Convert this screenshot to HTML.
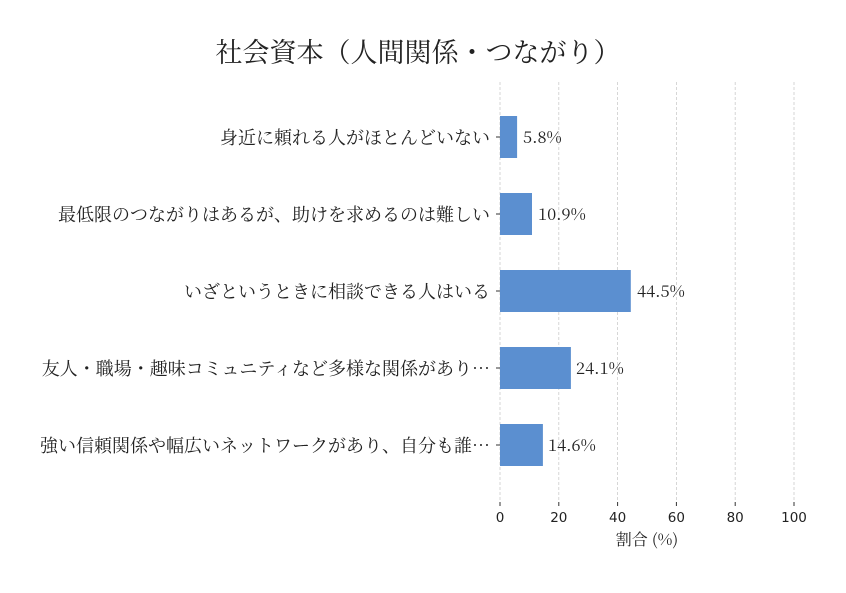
<!DOCTYPE html>
<html><head><meta charset="utf-8"><style>
body{margin:0;background:#fff}
svg text{fill:#222}
.s{font-family:"Noto Serif CJK JP","Liberation Serif",serif}
.d{font-family:"DejaVu Sans",sans-serif}
</style></head><body>
<svg width="846" height="588" viewBox="0 0 846 588" xmlns="http://www.w3.org/2000/svg">
<rect width="846" height="588" fill="#fff"/>
<text class="s" x="418" y="62" font-size="27" text-anchor="middle">社会資本（人間関係・つながり）</text>
<g stroke="#cccccc" stroke-width="0.8" stroke-dasharray="3,2">
<line x1="500" y1="82" x2="500" y2="500"/>
<line x1="558.8" y1="82" x2="558.8" y2="500"/>
<line x1="617.6" y1="82" x2="617.6" y2="500"/>
<line x1="676.4" y1="82" x2="676.4" y2="500"/>
<line x1="735.2" y1="82" x2="735.2" y2="500"/>
<line x1="794" y1="82" x2="794" y2="500"/>
</g>
<g fill="#5b8fd0">
<rect x="500" y="116" width="17.1" height="42"/>
<rect x="500" y="193" width="32" height="42"/>
<rect x="500" y="270" width="130.8" height="42"/>
<rect x="500" y="347" width="70.9" height="42"/>
<rect x="500" y="424" width="42.9" height="42"/>
</g>
<g stroke="#333" stroke-width="1">
<line x1="496" y1="137" x2="500" y2="137"/><line x1="496" y1="214" x2="500" y2="214"/>
<line x1="496" y1="291" x2="500" y2="291"/><line x1="496" y1="368" x2="500" y2="368"/>
<line x1="496" y1="445" x2="500" y2="445"/>
<line x1="500" y1="502" x2="500" y2="506"/><line x1="558.8" y1="502" x2="558.8" y2="506"/>
<line x1="617.6" y1="502" x2="617.6" y2="506"/><line x1="676.4" y1="502" x2="676.4" y2="506"/>
<line x1="735.2" y1="502" x2="735.2" y2="506"/><line x1="794" y1="502" x2="794" y2="506"/>
</g>
<g class="s" font-size="18" text-anchor="end">
<text x="490" y="144">身近に頼れる人がほとんどいない</text>
<text x="490" y="221">最低限のつながりはあるが、助けを求めるのは難しい</text>
<text x="490" y="298">いざというときに相談できる人はいる</text>
<text x="490" y="375">友人・職場・趣味コミュニティなど多様な関係があり…</text>
<text x="490" y="452">強い信頼関係や幅広いネットワークがあり、自分も誰…</text>
</g>
<g class="s" font-size="16.5">
<text x="523" y="143">5.8%</text>
<text x="538" y="220">10.9%</text>
<text x="637" y="297">44.5%</text>
<text x="576" y="374">24.1%</text>
<text x="548" y="451">14.6%</text>
</g>
<g class="d" font-size="13.5" text-anchor="middle">
<text x="500" y="522">0</text><text x="558.8" y="522">20</text><text x="617.6" y="522">40</text>
<text x="676.4" y="522">60</text><text x="735.2" y="522">80</text><text x="794" y="522">100</text>
</g>
<text class="s" x="647" y="545" font-size="16" text-anchor="middle">割合 (%)</text>
</svg>
</body></html>
